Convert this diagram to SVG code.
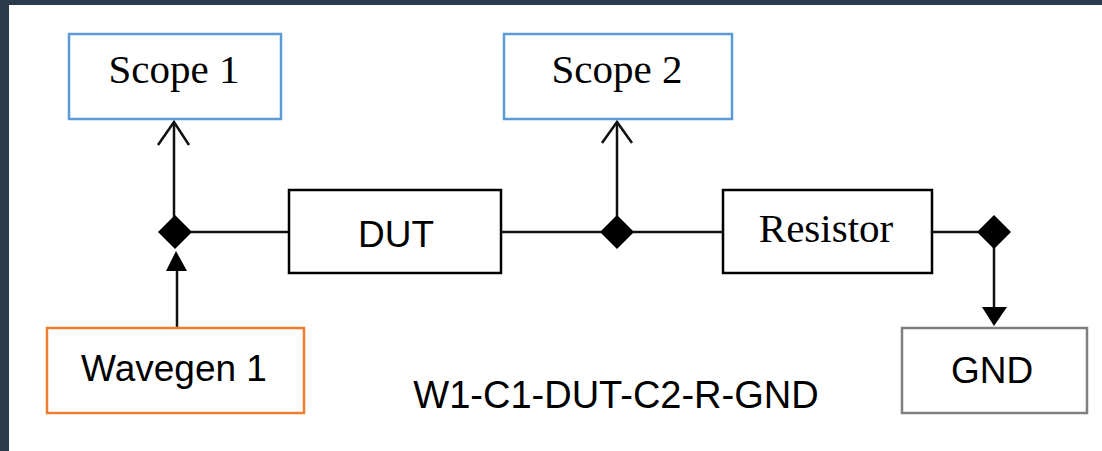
<svg xmlns="http://www.w3.org/2000/svg" width="1102" height="451" viewBox="0 0 1102 451">
<style>
.box{fill:#fff;stroke-width:2.5}
.blk{stroke:#000}
.serif{font-family:"Liberation Serif","Times New Roman",serif;font-size:41px;fill:#000;text-anchor:middle}
.sans{font-family:"Liberation Sans",Arial,sans-serif;font-size:37px;fill:#000;text-anchor:middle}
.ln{stroke:#111;stroke-width:2.5;fill:none}
.dia{fill:#000}
</style>
<rect x="0" y="0" width="1102" height="451" fill="#fff"/>
<rect x="0" y="0" width="1102" height="5" fill="#2c3a4d"/>
<rect x="0" y="0" width="9" height="451" fill="#2c3a4d"/>
<g id="connectors">
<line class="ln" x1="174" y1="232" x2="174" y2="123"/>
<path class="ln" d="M158,145 L174,122 L189,145"/>
<line class="ln" x1="177" y1="328" x2="177" y2="268"/>
<polygon points="176,251 187,271 166,271" fill="#000"/>
<line class="ln" x1="190" y1="232" x2="288" y2="232"/>
<line class="ln" x1="501" y1="232" x2="602" y2="232"/>
<line class="ln" x1="617" y1="232" x2="617" y2="123"/>
<path class="ln" d="M602,143 L617,122 L632,143"/>
<line class="ln" x1="632" y1="232" x2="723" y2="232"/>
<line class="ln" x1="932" y1="232" x2="978" y2="232"/>
<line class="ln" x1="994" y1="232" x2="994" y2="310"/>
<polygon points="982,307 1007,307 994,326" fill="#000"/>
</g>
<g id="junction1"><polygon class="dia" points="175,215 192,232 175,249 158,232"/></g>
<g id="junction2"><polygon class="dia" points="617,215 634,232 617,249 600,232"/></g>
<g id="junction3"><polygon class="dia" points="994,215 1011,232 994,249 977,232"/></g>
<g id="scope1">
<rect class="box" x="69" y="34" width="212" height="85" stroke="#5b9bd5"/>
<text class="serif" x="174" y="83">Scope 1</text>
</g>
<g id="scope2">
<rect class="box" x="504" y="34" width="228" height="85" stroke="#5b9bd5"/>
<text class="serif" x="617" y="83">Scope 2</text>
</g>
<g id="dut">
<rect class="box blk" x="289" y="190" width="212" height="83"/>
<text class="sans" x="396" y="247">DUT</text>
</g>
<g id="resistor">
<rect class="box blk" x="723" y="190" width="209" height="83"/>
<text class="serif" x="826" y="242">Resistor</text>
</g>
<g id="wavegen1">
<rect class="box" x="47" y="328" width="257" height="85" stroke="#ed7d31"/>
<text class="sans" x="174" y="381">Wavegen 1</text>
</g>
<g id="gnd">
<rect class="box" x="902" y="328" width="185" height="85" stroke="#7f7f7f"/>
<text class="sans" x="992" y="383">GND</text>
</g>
<text class="sans" x="616" y="408" style="font-size:38px">W1-C1-DUT-C2-R-GND</text>
</svg>
